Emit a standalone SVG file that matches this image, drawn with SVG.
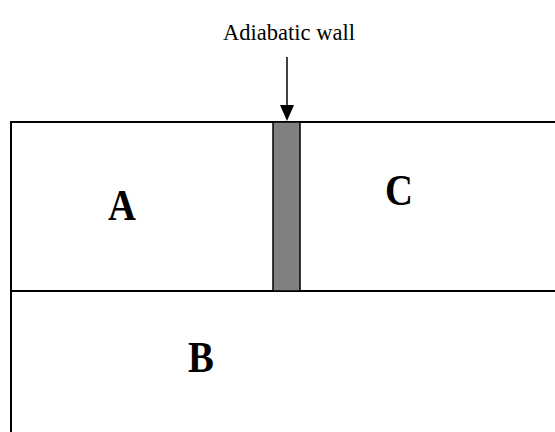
<svg xmlns="http://www.w3.org/2000/svg" width="555" height="432" viewBox="0 0 555 432">
<defs>
<style>
.line{stroke:#000;stroke-width:2;fill:none}
.lbl{font-family:"Liberation Serif","Times New Roman",serif;font-weight:bold;font-size:44px;text-anchor:middle;fill:#000}
.cap{font-family:"Liberation Serif","Times New Roman",serif;font-size:22.5px;text-anchor:middle;fill:#000}
</style>
</defs>
<rect width="555" height="432" fill="#fff"/>
<g id="container">
<path class="line" d="M11,433 V122 H556"/>
<path class="line" d="M11,291 H556"/>
</g>
<g id="wall">
<rect x="273" y="122" width="27" height="169" fill="#808080" stroke="#000" stroke-width="1.5"/>
</g>
<g id="A"><text class="lbl" transform="translate(122,220) scale(0.88,1)">A</text></g>
<g id="C"><text class="lbl" transform="translate(399,205) scale(0.88,1)">C</text></g>
<g id="B"><text class="lbl" transform="translate(201,372) scale(0.88,1)">B</text></g>
<g id="label"><text class="cap" x="289" y="40">Adiabatic wall</text></g>
<g id="connectors">
<line x1="287" y1="57" x2="287" y2="106" stroke="#000" stroke-width="1.5"/>
<path d="M280,105 L294,105 L287,121 Z" fill="#000"/>
</g>
</svg>
